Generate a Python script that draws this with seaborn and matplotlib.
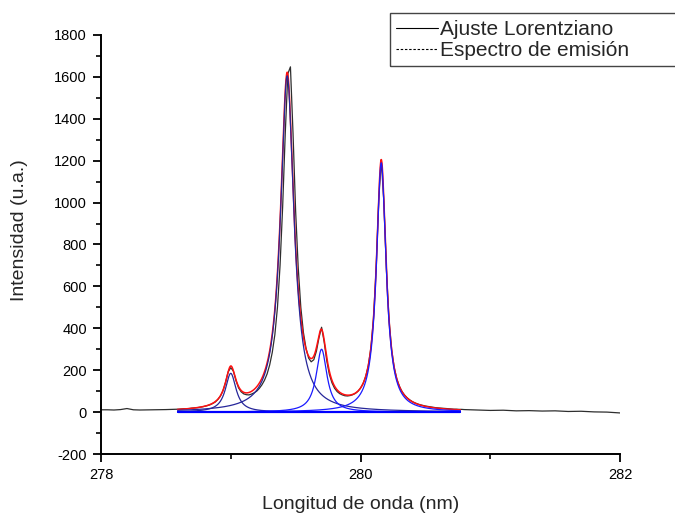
import numpy as np
import pandas as pd
import matplotlib
matplotlib.use("Agg")
import matplotlib.pyplot as plt
import seaborn as sns
from matplotlib.patches import Rectangle
from matplotlib.lines import Line2D
from matplotlib.ticker import MultipleLocator

sns.set_style("ticks")
plt.rcParams['font.family'] = ['Liberation Sans', 'DejaVu Sans']
plt.rcParams['axes.unicode_minus'] = False

# ---- measured emission spectrum (wavelength nm, intensity a.u.) ----
spec_left_x = [278.00, 278.05, 278.10, 278.15, 278.20, 278.25, 278.30, 278.40, 278.50]
spec_left_y = [11, 11, 10, 12, 17, 11, 10, 11, 12]

spec_mid_x = [278.60, 278.62, 278.64, 278.66, 278.68, 278.70, 278.72, 278.74, 278.76, 278.78,
              278.80, 278.82, 278.84, 278.86, 278.88, 278.90, 278.92, 278.94, 278.96, 278.98,
              279.00, 279.02, 279.04, 279.06, 279.08, 279.10, 279.12, 279.14, 279.16, 279.18,
              279.20, 279.22, 279.24, 279.26, 279.28, 279.30, 279.32, 279.34, 279.36, 279.38,
              279.40, 279.42, 279.44, 279.46, 279.48, 279.50, 279.52, 279.54, 279.56, 279.58,
              279.60, 279.62, 279.64, 279.66, 279.68, 279.70, 279.72, 279.74, 279.76, 279.78,
              279.80, 279.82, 279.84, 279.86, 279.88, 279.90, 279.92, 279.94, 279.96, 279.98,
              280.00, 280.02, 280.04, 280.06, 280.08, 280.10, 280.12, 280.14, 280.16, 280.18,
              280.20, 280.22, 280.24, 280.26, 280.28, 280.30, 280.32, 280.34, 280.36, 280.38,
              280.40, 280.42, 280.44, 280.46, 280.48, 280.50, 280.52, 280.54, 280.56, 280.58,
              280.60, 280.62, 280.64, 280.66, 280.68, 280.70, 280.72, 280.74, 280.76, 280.78,
              280.80]
spec_mid_y = [14, 15, 16, 16, 17, 19, 20, 21, 23, 25,
              28, 31, 35, 41, 48, 60, 76, 102, 142, 192,
              212, 196, 151, 116, 97, 87, 83, 82, 86, 92,
              100, 113, 130, 152, 182, 225, 285, 370, 500, 700,
              980, 1330, 1615, 1648, 1330, 960, 690, 500, 380, 305,
              258, 240, 250, 290, 355, 405, 335, 245, 180, 140,
              114, 98, 88, 82, 78, 77, 79, 83, 89, 99,
              114, 136, 170, 222, 306, 446, 680, 1006, 1205, 1005,
              676, 440, 298, 212, 158, 123, 98, 81, 68, 58,
              50, 44, 39, 35, 32, 29, 27, 25, 23, 21,
              20, 19, 18, 17, 16, 15, 14, 14, 13, 13,
              12]

spec_right_x = [280.90, 281.00, 281.10, 281.20, 281.30, 281.40, 281.50, 281.60, 281.70,
                281.80, 281.90, 282.00]
spec_right_y = [10, 8, 9, 6, 7, 5, 6, 3, 4, 1, 0, -4]

# ---- Lorentzian fit parameters ----
fit_centers = [279.00, 279.435, 279.70, 280.16]
fit_amplitudes = [185, 1605, 300, 1190]
fit_hwhm = [0.05, 0.062, 0.05, 0.045]
fit_baseline = 0.0
fit_start, fit_end = 278.59, 280.77

legend_labels = ["Ajuste Lorentziano", "Espectro de emisión"]
x_label = "Longitud de onda (nm)"
y_label = "Intensidad (u.a.)"
x_ticks = [278, 280, 282]
y_ticks = [-200, 0, 200, 400, 600, 800, 1000, 1200, 1400, 1600, 1800]

spectrum = pd.DataFrame({
    "wl": spec_left_x + spec_mid_x + spec_right_x,
    "I": spec_left_y + spec_mid_y + spec_right_y,
})

wl = np.linspace(fit_start, fit_end, 1500)
def lorentz(x, a, c, g):
    return a * g**2 / ((x - c)**2 + g**2)
components = [lorentz(wl, a, c, g) for a, c, g in zip(fit_amplitudes, fit_centers, fit_hwhm)]
total = fit_baseline + sum(components)

W, H = 675, 514
fig = plt.figure(figsize=(W / 100, H / 100), dpi=100)
ax = fig.add_axes([101 / W, 1 - 454 / H, (620 - 101) / W, (454 - 35) / H])

sns.lineplot(data=spectrum, x="wl", y="I", ax=ax, color="#2e2e2e", lw=0.9,
             estimator=None, sort=False)
sns.lineplot(x=wl, y=total, ax=ax, color="#ff1010", lw=1.1, estimator=None, sort=False)
comp_colors = ["#26269a", "#26269a", "#1a1aff", "#1a1aff"]
for comp, col in zip(components, comp_colors):
    sns.lineplot(x=wl, y=fit_baseline + comp, ax=ax, color=col, lw=0.9,
                 estimator=None, sort=False)
sns.lineplot(x=[fit_start, fit_end], y=[fit_baseline, fit_baseline], ax=ax,
             color="#0000ff", lw=1.6, estimator=None, sort=False)

ax.set_xlim(278, 282)
ax.set_ylim(-200, 1800)
ax.set_xticks(x_ticks)
ax.set_yticks(y_ticks)
ax.xaxis.set_minor_locator(MultipleLocator(1))
ax.yaxis.set_minor_locator(MultipleLocator(100))
ax.tick_params(which="major", direction="out", length=6, width=1.3, labelsize=10.5,
               colors="black", pad=4)
ax.tick_params(which="minor", direction="out", length=3.5, width=1.2, colors="black")
ax.set_xlabel(x_label, fontsize=14, labelpad=10)
ax.set_ylabel(y_label, fontsize=14)
ax.yaxis.set_label_coords(-0.141, 0.535)
for s in ["top", "right"]:
    ax.spines[s].set_visible(False)
for s in ["left", "bottom"]:
    ax.spines[s].set_linewidth(1.4)
    ax.spines[s].set_color("black")

handles = [Line2D([], [], color="black", lw=0.8),
           Line2D([], [], color="black", lw=0.8, ls=(0, (2.2, 1.6)))]
fig.legend(handles, legend_labels, loc="upper left",
           bbox_to_anchor=(396 / W, 1 - 20 / H), frameon=False, fontsize=15,
           handlelength=2.0, handletextpad=0.1, labelspacing=0.1,
           borderpad=0, borderaxespad=0)
fig.patches.append(Rectangle((390 / W, 1 - 66 / H), 0.5, 53 / H,
                             transform=fig.transFigure, fill=False,
                             ec="#444444", lw=1.0))

fig.savefig("out.png", dpi=100)
